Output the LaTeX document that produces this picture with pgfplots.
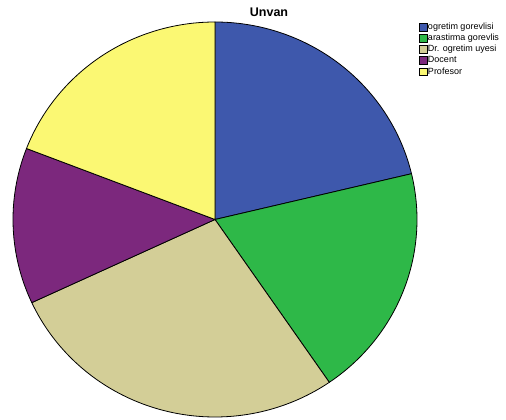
\documentclass[border=0pt]{standalone}
\usepackage{pgfplots}
\pgfplotsset{compat=1.18}
\usepackage{fontspec}
\setmainfont{Liberation Sans}
\definecolor{c1}{HTML}{3E58AC}
\definecolor{c2}{HTML}{2EB848}
\definecolor{c3}{HTML}{D3CE97}
\definecolor{c4}{HTML}{7C287D}
\definecolor{c5}{HTML}{FBF873}
% counts per category
\def\va{10}\def\vb{9}\def\vc{13}\def\vd{6}\def\ve{9}
\pgfmathsetmacro{\tot}{\va+\vb+\vc+\vd+\ve}
\pgfmathsetmacro{\aA}{90}
\pgfmathsetmacro{\aB}{\aA-360*\va/\tot}
\pgfmathsetmacro{\aC}{\aB-360*\vb/\tot}
\pgfmathsetmacro{\aD}{\aC-360*\vc/\tot}
\pgfmathsetmacro{\aE}{\aD-360*\vd/\tot}
\pgfmathsetmacro{\aF}{\aE-360*\ve/\tot}
\def\cx{215}\def\cy{200.5}\def\rx{202}\def\ry{197.5}
\begin{document}
\begin{tikzpicture}
\useasboundingbox (0,0) rectangle (506pt,420pt);
\begin{axis}[
  scale only axis, width=506pt, height=420pt,
  xmin=0, xmax=506, ymin=0, ymax=420,
  hide axis, clip=false,
  legend style={at={(419/506,398/420)}, anchor=north west, draw=none, fill=none,
    font=\fontsize{9}{11}\selectfont, row sep=1.6pt, inner sep=0pt,
    legend cell align=left, nodes={inner sep=0.8pt}},
  legend image code/.code={\draw[#1, draw=black, line width=0.5pt] (0pt,-3.8pt) rectangle (7.5pt,3.8pt);},
]
\addplot[fill=c1, draw=black, line width=0.8pt, domain=\aB:\aA, samples=80, variable=\t]
  ({\cx+\rx*cos(\t)},{\cy+\ry*sin(\t)}) -- (axis cs:\cx,\cy) -- cycle;
\addlegendentry{ogretim gorevlisi}
\addplot[fill=c2, draw=black, line width=0.8pt, domain=\aC:\aB, samples=80, variable=\t]
  ({\cx+\rx*cos(\t)},{\cy+\ry*sin(\t)}) -- (axis cs:\cx,\cy) -- cycle;
\addlegendentry{arastirma gorevlis}
\addplot[fill=c3, draw=black, line width=0.8pt, domain=\aD:\aC, samples=80, variable=\t]
  ({\cx+\rx*cos(\t)},{\cy+\ry*sin(\t)}) -- (axis cs:\cx,\cy) -- cycle;
\addlegendentry{Dr. ogretim uyesi}
\addplot[fill=c4, draw=black, line width=0.8pt, domain=\aE:\aD, samples=80, variable=\t]
  ({\cx+\rx*cos(\t)},{\cy+\ry*sin(\t)}) -- (axis cs:\cx,\cy) -- cycle;
\addlegendentry{Docent}
\addplot[fill=c5, draw=black, line width=0.8pt, domain=\aF:\aE, samples=80, variable=\t]
  ({\cx+\rx*cos(\t)},{\cy+\ry*sin(\t)}) -- (axis cs:\cx,\cy) -- cycle;
\addlegendentry{Profesor}
\node[font=\bfseries\fontsize{12.5}{14}\selectfont, anchor=center] at (axis cs:269,408) {Unvan};
\end{axis}
\end{tikzpicture}
\end{document}
